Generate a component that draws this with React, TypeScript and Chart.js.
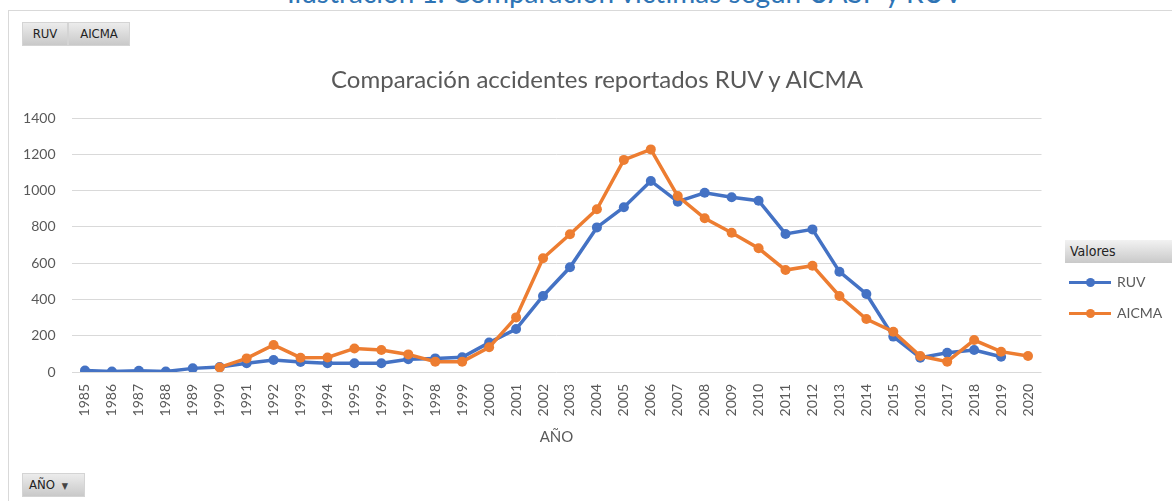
import React, { useEffect, useRef } from "react";
import { Chart, registerables } from "chart.js";

Chart.register(...registerables);

const years: string[] = [
  "1985", "1986", "1987", "1988", "1989", "1990", "1991", "1992", "1993", "1994",
  "1995", "1996", "1997", "1998", "1999", "2000", "2001", "2002", "2003", "2004",
  "2005", "2006", "2007", "2008", "2009", "2010", "2011", "2012", "2013", "2014",
  "2015", "2016", "2017", "2018", "2019", "2020",
];

const ruv: (number | null)[] = [
  8, 3, 7, 3, 20, 27, 48, 66, 55, 48,
  48, 48, 70, 75, 81, 162, 237, 419, 577, 797,
  908, 1053, 939, 988, 963, 944, 761, 786, 553, 430,
  195, 79, 106, 121, 84, null,
];

const aicma: (number | null)[] = [
  null, null, null, null, null, 25, 75, 149, 79, 80,
  130, 121, 97, 57, 57, 136, 301, 627, 759, 897,
  1169, 1227, 970, 847, 768, 682, 562, 586, 419, 292,
  222, 88, 57, 176, 112, 88,
];

const yTicks: number[] = [0, 200, 400, 600, 800, 1000, 1200, 1400];

const BLUE = "#4472C4";
const ORANGE = "#ED7D31";
const GREY_TEXT = "#595959";
const FONT = "Lato, 'Liberation Sans', sans-serif";

const btn: React.CSSProperties = {
  position: "absolute",
  height: 24,
  boxSizing: "border-box",
  background: "linear-gradient(#ececec, #c9c9c9)",
  border: "1px solid #d4d4d4",
  fontFamily: "'DejaVu Sans Condensed', 'Liberation Sans', sans-serif",
  fontSize: 13,
  color: "#222",
  lineHeight: "22px",
  textAlign: "center",
};

export default function App() {
  const canvasRef = useRef<HTMLCanvasElement | null>(null);

  useEffect(() => {
    document.body.style.margin = "0";
    const canvas = canvasRef.current;
    if (!canvas) return;
    const chart = new Chart(canvas, {
      type: "line",
      data: {
        labels: years,
        datasets: [
          {
            label: "RUV",
            data: ruv,
            borderColor: BLUE,
            backgroundColor: BLUE,
            borderWidth: 3.5,
            pointRadius: 5,
            pointBackgroundColor: BLUE,
            pointBorderColor: BLUE,
            pointBorderWidth: 0,
            tension: 0,
            order: 1,
          },
          {
            label: "AICMA",
            data: aicma,
            borderColor: ORANGE,
            backgroundColor: ORANGE,
            borderWidth: 3.5,
            pointRadius: 5,
            pointBackgroundColor: ORANGE,
            pointBorderColor: ORANGE,
            pointBorderWidth: 0,
            tension: 0,
            order: 0,
          },
        ],
      },
      options: {
        animation: false,
        responsive: false,
        maintainAspectRatio: false,
        devicePixelRatio: 1,
        layout: { padding: { left: 0, right: 130.5, top: 118, bottom: 55 } },
        plugins: {
          legend: { display: false },
          title: { display: false },
          tooltip: { enabled: false },
        },
        scales: {
          x: {
            offset: true,
            grid: { display: false, drawTicks: false },
            border: { display: false },
            ticks: {
              minRotation: 90,
              maxRotation: 90,
              autoSkip: false,
              padding: 12,
              color: GREY_TEXT,
              font: { family: FONT, size: 14 },
            },
            title: {
              display: true,
              text: "AÑO",
              color: GREY_TEXT,
              font: { family: FONT, size: 15 },
              padding: { top: 0, bottom: 0 },
            },
            afterFit: (s: any) => {
              s.height = 74;
            },
          },
          y: {
            min: 0,
            max: 1400,
            afterBuildTicks: (s: any) => {
              s.ticks = yTicks.map((v) => ({ value: v }));
            },
            grid: { color: "#d9d9d9", lineWidth: 1, drawTicks: false },
            border: { display: false },
            ticks: {
              padding: 16,
              color: GREY_TEXT,
              font: { family: FONT, size: 14 },
              callback: (v: any) => String(v),
            },
            afterFit: (s: any) => {
              s.width = 71.5;
            },
          },
        },
      },
    });
    return () => chart.destroy();
  }, []);

  return (
    <div style={{ position: "relative", width: 1172, height: 501, overflow: "hidden", background: "#fff" }}>
      <div
        style={{
          position: "absolute",
          left: 0,
          width: 1250,
          top: -25,
          textAlign: "center",
          fontFamily: FONT,
          fontSize: 28,
          color: "#2E74B5",
          whiteSpace: "nowrap",
        }}
      >
        Ilustración 1. Comparación víctimas según UASP y RUV
      </div>
      <div
        style={{
          position: "absolute",
          left: 8,
          top: 10,
          width: 1180,
          height: 520,
          border: "1px solid #d9d9d9",
          boxSizing: "border-box",
          background: "#fff",
        }}
      />
      <canvas
        ref={canvasRef}
        width={1172}
        height={501}
        style={{ position: "absolute", left: 0, top: 0, width: 1172, height: 501 }}
      />
      <div style={{ ...btn, left: 22, top: 22, width: 46 }}>RUV</div>
      <div style={{ ...btn, left: 68, top: 22, width: 62 }}>AICMA</div>
      <div
        style={{
          position: "absolute",
          left: 0,
          width: 1194,
          top: 64,
          textAlign: "center",
          fontFamily: FONT,
          fontSize: 24,
          color: GREY_TEXT,
          whiteSpace: "nowrap",
        }}
      >
        Comparación accidentes reportados RUV y AICMA
      </div>
      <div
        style={{
          position: "absolute",
          left: 1065,
          top: 240,
          width: 120,
          height: 23,
          background: "linear-gradient(#f2f2f2, #c9c9c9)",
          fontFamily: "'DejaVu Sans Condensed', 'Liberation Sans', sans-serif",
          fontSize: 14,
          lineHeight: "23px",
          color: "#222",
          paddingLeft: 5,
          boxSizing: "border-box",
        }}
      >
        Valores
      </div>
      {[
        { name: "RUV", color: BLUE, top: 282 },
        { name: "AICMA", color: ORANGE, top: 313 },
      ].map((e) => (
        <div key={e.name}>
          <div
            style={{
              position: "absolute",
              left: 1069,
              top: e.top - 1.5,
              width: 42,
              height: 3,
              background: e.color,
            }}
          />
          <div
            style={{
              position: "absolute",
              left: 1085.5,
              top: e.top - 4.5,
              width: 9,
              height: 9,
              borderRadius: "50%",
              background: e.color,
            }}
          />
          <div
            style={{
              position: "absolute",
              left: 1117,
              top: e.top - 10,
              fontFamily: FONT,
              fontSize: 14,
              lineHeight: "20px",
              color: GREY_TEXT,
            }}
          >
            {e.name}
          </div>
        </div>
      ))}
      <div style={{ ...btn, left: 22, top: 473, width: 63, textAlign: "left", paddingLeft: 6 }}>
        AÑO <span style={{ fontSize: 9, marginLeft: 3, color: "#444" }}>▼</span>
      </div>
    </div>
  );
}
